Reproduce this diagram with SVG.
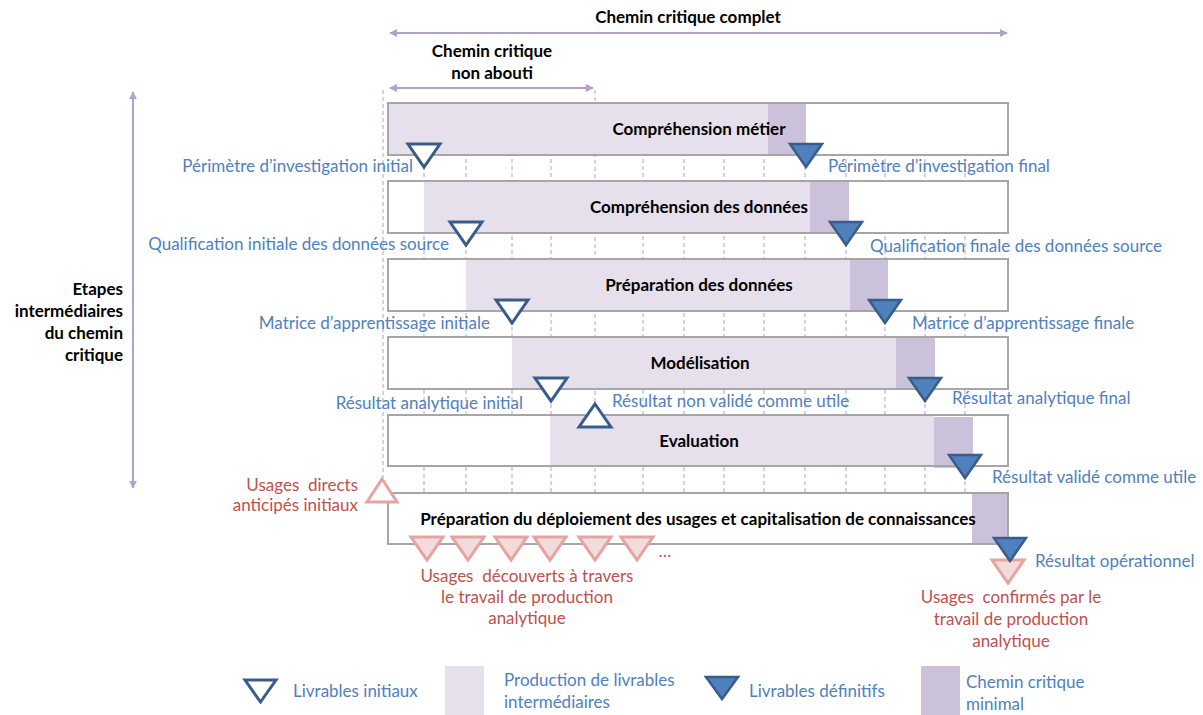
<svg xmlns="http://www.w3.org/2000/svg" width="1203" height="715" viewBox="0 0 1203 715">
<defs>
<marker id="ah" viewBox="0 0 10 10" refX="9" refY="5" markerWidth="4" markerHeight="4" orient="auto-start-reverse" markerUnits="strokeWidth">
<path d="M0,0 L10,5 L0,10 z" fill="#b3a2c7"/>
</marker>
<style>
.b{font-family:Lato,"Liberation Sans",sans-serif;font-weight:bold;font-size:17px;fill:#000;}
.bl{font-family:Lato,"Liberation Sans",sans-serif;font-size:17px;fill:#4f81bd;}
.rd{font-family:Lato,"Liberation Sans",sans-serif;font-size:17px;fill:#c0504d;}
.dash{stroke:#b3a2c7;stroke-width:1;stroke-dasharray:4,3;fill:none;}
.arr{stroke:#b3a2c7;stroke-width:2;fill:none;marker-start:url(#ah);marker-end:url(#ah);}
.box{fill:none;stroke:#a6a6a6;stroke-width:2;}
.wbox{fill:#fff;stroke:none;}
.lt{fill:#e6e0ec;}
.dk{fill:#ccc1da;}
.ini{fill:#fff;stroke:#385d8a;stroke-width:3;stroke-linejoin:miter;}
.fin{fill:#4f81bd;stroke:#385d8a;stroke-width:2.5;}
.pk{fill:#f2dcdb;stroke:#e6a3a1;stroke-width:3;}
.pkw{fill:#fff;stroke:#e6a3a1;stroke-width:3;}
</style>
</defs>

<g id="connectors">
<line class="arr" x1="390" y1="33" x2="1007" y2="33"/>
<line class="arr" x1="390" y1="88" x2="593" y2="88"/>
<line class="arr" x1="133" y1="92" x2="133" y2="488"/>
<line class="dash" x1="383" y1="90" x2="383" y2="478"/>
<line class="dash" x1="424" y1="103" x2="424" y2="493"/>
<line class="dash" x1="466" y1="103" x2="466" y2="493"/>
<line class="dash" x1="512" y1="103" x2="512" y2="493"/>
<line class="dash" x1="551" y1="103" x2="551" y2="493"/>
<line class="dash" x1="595" y1="90" x2="595" y2="493"/>
<line class="dash" x1="643" y1="103" x2="643" y2="493"/>
<line class="dash" x1="684" y1="103" x2="684" y2="493"/>
<line class="dash" x1="724" y1="103" x2="724" y2="493"/>
<line class="dash" x1="764" y1="103" x2="764" y2="493"/>
<line class="dash" x1="805" y1="103" x2="805" y2="493"/>
<line class="dash" x1="846" y1="103" x2="846" y2="493"/>
<line class="dash" x1="885" y1="103" x2="885" y2="493"/>
<line class="dash" x1="925" y1="103" x2="925" y2="493"/>
<line class="dash" x1="965" y1="103" x2="965" y2="493"/>
</g>

<g id="titles">
<text class="b" x="688" y="23" text-anchor="middle">Chemin critique complet</text>
<text class="b" x="492" y="57" text-anchor="middle">Chemin critique</text>
<text class="b" x="492" y="79" text-anchor="middle">non abouti</text>
<text class="b" text-anchor="end"><tspan x="123" y="295">Etapes</tspan><tspan x="123" y="317">intermédiaires</tspan><tspan x="123" y="339">du chemin</tspan><tspan x="123" y="361">critique</tspan></text>
</g>

<g id="row1">
<rect class="wbox" x="388" y="103" width="620" height="52"/>
<rect class="lt" x="388" y="103" width="380" height="52"/>
<rect class="dk" x="768" y="103" width="38" height="52"/>
<rect class="box" x="388" y="103" width="620" height="52"/>
<text class="b" x="699" y="135" text-anchor="middle">Compréhension métier</text>
</g>
<g id="row2">
<rect class="wbox" x="388" y="181" width="620" height="52"/>
<rect class="lt" x="424" y="182" width="386" height="51"/>
<rect class="dk" x="810" y="182" width="39" height="51"/>
<rect class="box" x="388" y="181" width="620" height="52"/>
<text class="b" x="699" y="213" text-anchor="middle">Compréhension des données</text>
</g>
<g id="row3">
<rect class="wbox" x="388" y="259" width="620" height="52"/>
<rect class="lt" x="466" y="260" width="384" height="51"/>
<rect class="dk" x="850" y="260" width="38" height="51"/>
<rect class="box" x="388" y="259" width="620" height="52"/>
<text class="b" x="699" y="291" text-anchor="middle">Préparation des données</text>
</g>
<g id="row4">
<rect class="wbox" x="388" y="337" width="620" height="52"/>
<rect class="lt" x="512" y="338" width="384" height="51"/>
<rect class="dk" x="896" y="338" width="39" height="51"/>
<rect class="box" x="388" y="337" width="620" height="52"/>
<text class="b" x="700" y="369" text-anchor="middle">Modélisation</text>
</g>
<g id="row5">
<rect class="wbox" x="388" y="415" width="620" height="51"/>
<rect class="lt" x="550" y="416" width="384" height="50"/>
<rect class="dk" x="934" y="417" width="39" height="51"/>
<rect class="box" x="388" y="415" width="620" height="51"/>
<text class="b" x="699" y="447" text-anchor="middle">Evaluation</text>
</g>
<g id="row6">
<rect class="wbox" x="388" y="493" width="620" height="51"/>
<rect class="dk" x="972" y="494" width="36" height="50"/>
<rect class="box" x="388" y="493" width="620" height="51"/>
<text class="b" x="698" y="525" text-anchor="middle">Préparation du déploiement des usages et capitalisation de connaissances</text>
</g>

<g id="livrables">
<polygon class="ini" points="408,144 440,144 424,167"/>
<polygon class="fin" points="790,144 822,144 806,167"/>
<polygon class="ini" points="450,222 482,222 466,245"/>
<polygon class="fin" points="830,222 862,222 846,245"/>
<polygon class="ini" points="496,300 528,300 512,323"/>
<polygon class="fin" points="869,300 901,300 885,323"/>
<polygon class="ini" points="535,378 567,378 551,401"/>
<polygon class="fin" points="909,378 941,378 925,401"/>
<polygon class="ini" points="595,404 611,427 579,427"/>
<polygon class="fin" points="949,455 981,455 965,478"/>
<polygon class="pk" points="992,560 1024,560 1008,583"/>
<polygon class="fin" points="994,538 1026,538 1010,561"/>
<polygon class="pkw" points="382,479 397,502 367,502"/>
<polygon class="pk" points="411,537 443,537 427,560"/>
<polygon class="pk" points="452,537 484,537 468,560"/>
<polygon class="pk" points="495,537 527,537 511,560"/>
<polygon class="pk" points="534,537 566,537 550,560"/>
<polygon class="pk" points="579,537 611,537 595,560"/>
<polygon class="pk" points="621,537 653,537 637,560"/>
</g>

<g id="labels">
<text class="bl" x="413" y="172" text-anchor="end">Périmètre d’investigation initial</text>
<text class="bl" x="828" y="172">Périmètre d’investigation final</text>
<text class="bl" x="449" y="250" text-anchor="end">Qualification initiale des données source</text>
<text class="bl" x="870" y="252">Qualification finale des données source</text>
<text class="bl" x="490" y="329" text-anchor="end">Matrice d’apprentissage initiale</text>
<text class="bl" x="912" y="329">Matrice d’apprentissage finale</text>
<text class="bl" x="523" y="409" text-anchor="end">Résultat analytique initial</text>
<text class="bl" x="612" y="407">Résultat non validé comme utile</text>
<text class="bl" x="952" y="404">Résultat analytique final</text>
<text class="bl" x="992" y="483">Résultat validé comme utile</text>
<text class="bl" x="1035" y="567">Résultat opérationnel</text>
<text class="rd" text-anchor="end" xml:space="preserve"><tspan x="358" y="491">Usages  directs</tspan><tspan x="358" y="511">anticipés initiaux</tspan></text>
<text class="rd" text-anchor="middle" xml:space="preserve"><tspan x="527" y="582">Usages  découverts à travers</tspan><tspan x="527" y="603">le travail de production</tspan><tspan x="527" y="624">analytique</tspan></text>
<text class="rd" x="665" y="557" text-anchor="middle">…</text>
<text class="rd" text-anchor="middle" xml:space="preserve"><tspan x="1011" y="603">Usages  confirmés par le</tspan><tspan x="1011" y="625">travail de production</tspan><tspan x="1011" y="647">analytique</tspan></text>
</g>

<g id="legend">
<polygon class="ini" points="245,680 276,680 260.5,702"/>
<text class="bl" x="293" y="697">Livrables initiaux</text>
<rect class="lt" x="445" y="666" width="39" height="49"/>
<text class="bl"><tspan x="504" y="686">Production de livrables</tspan><tspan x="504" y="708">intermédiaires</tspan></text>
<polygon class="fin" points="706,677 738,677 722,699"/>
<text class="bl" x="749" y="697">Livrables définitifs</text>
<rect class="dk" x="921" y="666" width="39" height="49"/>
<text class="bl"><tspan x="966" y="688">Chemin critique</tspan><tspan x="966" y="710">minimal</tspan></text>
</g>
</svg>
